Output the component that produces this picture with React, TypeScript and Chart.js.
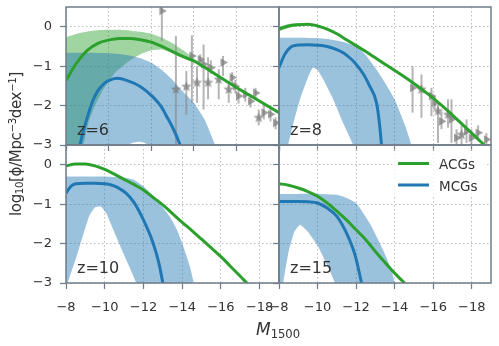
import React, { useEffect, useRef } from 'react';
import { Chart, registerables } from 'chart.js';

Chart.register(...registerables);

// ---------------- values ----------------
const xTickValues = [-8, -10, -12, -14, -16, -18];
const yTickValues = [-3, -2, -1, 0];
const redshiftLabels = ['z=6', 'z=8', 'z=10', 'z=15'];
const seriesNames = ['ACGs', 'MCGs'];

// z = 6
const z6AcgM = [-8, -8.5, -9, -9.5, -10, -10.5, -11, -11.5, -12, -12.5, -13, -13.5, -14, -14.5, -15, -15.5, -16, -16.5, -17, -17.5, -18, -18.5];
const z6AcgPhi = [-1.36, -0.92, -0.6, -0.42, -0.34, -0.3, -0.3, -0.33, -0.39, -0.5, -0.63, -0.76, -0.87, -1.03, -1.2, -1.37, -1.54, -1.7, -1.86, -2.02, -2.18, -2.34];
const z6AcgHiM = [-8, -8.5, -9, -9.5, -10, -10.5, -11, -11.5, -12, -12.5, -13, -13.5, -14, -14.5, -15];
const z6AcgHi = [-0.27, -0.18, -0.12, -0.09, -0.08, -0.08, -0.1, -0.13, -0.18, -0.28, -0.42, -0.6, -0.8, -1.0, -1.18];
const z6AcgLoM = [-8, -8.8, -9.05, -9.36, -9.75, -10.3, -11, -11.5, -12, -12.5, -13, -13.5, -14, -14.5, -15];
const z6AcgLo = [-3.6, -3.0, -2.44, -2.0, -1.59, -1.17, -0.86, -0.7, -0.6, -0.58, -0.66, -0.78, -0.9, -1.04, -1.2];
const z6McgM = [-8.5, -8.66, -9, -9.28, -9.5, -9.75, -10, -10.4, -10.85, -11.5, -12, -12.5, -12.7, -13, -13.36, -13.6];
const z6McgPhi = [-3.6, -3.0, -2.3, -1.85, -1.62, -1.46, -1.37, -1.31, -1.36, -1.52, -1.74, -2.05, -2.25, -2.55, -3.0, -3.4];
const z6McgHiM = [-8, -9, -10, -10.5, -11, -11.5, -12, -12.5, -13, -13.5, -14, -14.5, -15, -15.3];
const z6McgHi = [-0.66, -0.66, -0.67, -0.69, -0.73, -0.8, -0.91, -1.1, -1.35, -1.65, -1.93, -2.35, -3.0, -3.5];
const z6McgLoM = [-8, -10, -10.8, -11.1, -11.4, -11.7, -12, -13, -15.3];
const z6McgLo = [-4, -3.6, -3.05, -2.95, -2.92, -2.95, -3.05, -3.6, -4];
const z6ObsM = [-12.5, -13.16, -13.65, -13.91, -14.15, -14.3, -14.46, -14.67, -14.8, -15.17, -15.37, -15.64, -15.8, -15.95, -16.1, -16.42, -16.66, -16.9, -17.05, -17.29, -17.6, -17.84];
const z6ObsPhi = [0.4, -1.59, -1.52, -0.74, -1.42, -0.83, -0.95, -1.42, -1.04, -1.34, -0.91, -1.59, -1.29, -1.51, -1.76, -1.72, -1.89, -1.68, -2.31, -2.18, -2.22, -2.44];
const z6ObsHi = [0.9, -0.23, -1.12, -0.22, -1.0, -0.7, -0.45, -0.78, -0.85, -1.08, -0.74, -1.38, -1.15, -1.35, -1.6, -1.55, -1.75, -1.55, -2.1, -2.0, -2.05, -2.3];
const z6ObsLo = [-0.36, -3.1, -2.23, -1.93, -1.93, -0.95, -2.1, -1.84, -1.2, -1.84, -1.25, -1.93, -1.45, -1.7, -1.95, -1.9, -2.05, -1.85, -2.5, -2.35, -2.4, -2.6];
const z6ObsMarker = ['tri', 'star', 'star', 'tri', 'star', 'tri', 'tri', 'star', 'tri', 'star', 'tri', 'star', 'tri', 'tri', 'tri', 'tri', 'tri', 'tri', 'star', 'tri', 'tri', 'tri'];

// z = 8
const z8AcgM = [-8, -8.5, -9, -9.5, -10, -10.5, -11, -11.5, -12, -12.5, -13, -13.5, -14, -14.5, -15, -15.5, -16, -16.5, -17, -17.5, -18, -18.5, -19];
const z8AcgPhi = [-0.06, 0.02, 0.05, 0.06, 0.02, -0.06, -0.18, -0.33, -0.48, -0.63, -0.79, -0.95, -1.11, -1.27, -1.44, -1.62, -1.81, -2.02, -2.24, -2.47, -2.7, -2.93, -3.16];
const z8AcgHiM = [-8, -8.5, -9, -9.5, -10, -10.5];
const z8AcgHi = [0.0, 0.07, 0.09, 0.09, 0.05, -0.05];
const z8AcgLoM = [-8, -8.5, -9, -9.5, -10, -10.5];
const z8AcgLo = [-0.12, -0.03, 0.01, 0.03, -0.01, -0.07];
const z8McgM = [-8, -8.3, -8.6, -8.9, -9.5, -10, -10.5, -11, -11.33, -11.7, -12, -12.4, -12.7, -13.06, -13.2, -13.32, -13.4];
const z8McgPhi = [-1.04, -0.7, -0.52, -0.47, -0.46, -0.47, -0.5, -0.58, -0.66, -0.8, -0.95, -1.22, -1.5, -1.93, -2.4, -3.0, -3.4];
const z8McgHiM = [-8, -9, -10, -10.5, -11, -11.5, -12, -12.5, -13, -13.5, -14, -14.5, -14.87, -15.1];
const z8McgHi = [-0.28, -0.28, -0.29, -0.31, -0.35, -0.41, -0.5, -0.72, -1.05, -1.42, -1.84, -2.45, -3.0, -3.5];
const z8McgLoM = [-8, -8.3, -8.48, -8.8, -9.09, -9.5, -9.75, -10, -10.3, -10.81, -11.33, -11.85, -12.1, -15.1];
const z8McgLo = [-4, -3.6, -3.0, -2.35, -1.84, -1.29, -1.04, -1.1, -1.34, -1.84, -2.44, -3.0, -3.4, -4];
const z8ObsM = [-14.93, -15.39, -15.91, -16.08, -16.25, -16.43, -16.77, -16.95, -17.21, -17.47, -17.73, -17.98, -18.33, -18.76];
const z8ObsPhi = [-1.55, -1.59, -1.76, -1.93, -2.14, -2.4, -2.23, -2.35, -2.82, -2.74, -2.65, -2.82, -2.69, -2.86];
const z8ObsHi = [-1.0, -1.21, -1.55, -1.75, -1.93, -2.15, -1.84, -1.84, -2.6, -2.5, -2.35, -2.6, -2.5, -2.7];
const z8ObsLo = [-2.18, -2.31, -2.27, -2.1, -2.95, -2.6, -2.56, -2.95, -3.1, -3.0, -2.95, -3.1, -2.9, -3.05];
const z8ObsMarker = ['tri', 'star', 'tri', 'tri', 'star', 'tri', 'star', 'tri', 'tri', 'star', 'tri', 'tri', 'tri', 'tri'];

// z = 10
const z10AcgM = [-8, -8.5, -9, -9.5, -10, -10.5, -11, -11.5, -12, -12.5, -13, -13.5, -14, -14.5, -15, -15.5, -16, -16.5, -17, -17.5, -18];
const z10AcgPhi = [-0.03, 0.02, 0.02, -0.03, -0.12, -0.24, -0.37, -0.5, -0.64, -0.83, -1.02, -1.24, -1.46, -1.67, -1.89, -2.11, -2.33, -2.58, -2.83, -3.08, -3.3];
const z10McgM = [-8, -8.25, -8.5, -9, -9.5, -10, -10.25, -10.6, -11.1, -11.5, -12, -12.5, -12.8, -13.0, -13.1];
const z10McgPhi = [-0.72, -0.55, -0.48, -0.47, -0.47, -0.48, -0.5, -0.56, -0.72, -0.95, -1.4, -1.99, -2.5, -3.0, -3.3];
const z10McgHiM = [-8, -9, -10, -11, -11.5, -12, -12.5, -12.83, -13.35, -13.7, -14, -14.4, -14.6, -14.8];
const z10McgHi = [-0.3, -0.3, -0.3, -0.33, -0.38, -0.55, -0.78, -0.97, -1.31, -1.62, -1.99, -2.58, -3.0, -3.5];
const z10McgLoM = [-8, -8.1, -8.5, -8.86, -9.2, -9.5, -9.8, -10.1, -10.59, -11.1, -11.63, -11.9, -14.8];
const z10McgLo = [-3.6, -3.0, -2.4, -1.82, -1.3, -1.08, -1.06, -1.25, -1.82, -2.4, -3.0, -3.5, -3.5];

// z = 15
const z15AcgM = [-8, -8.5, -9, -9.5, -10, -10.5, -11, -11.5, -12, -12.5, -13, -13.5, -14, -14.51, -14.8];
const z15AcgPhi = [-0.48, -0.52, -0.59, -0.68, -0.8, -0.97, -1.18, -1.4, -1.65, -1.9, -2.2, -2.48, -2.75, -3.0, -3.15];
const z15McgM = [-8, -9, -9.5, -10, -10.5, -11, -11.5, -11.94, -12.28, -12.4];
const z15McgPhi = [-0.93, -0.93, -0.94, -0.97, -1.1, -1.31, -1.73, -2.28, -3.0, -3.3];
const z15McgHiM = [-8, -9, -10, -11, -11.3, -12, -12.7, -13.4, -13.83, -14.0, -14.2];
const z15McgHi = [-0.74, -0.74, -0.74, -0.76, -0.8, -0.97, -1.48, -2.16, -2.66, -3.0, -3.5];
const z15McgLoM = [-8, -8.22, -8.5, -8.8, -9.09, -9.5, -10, -10.5, -10.9, -11.1, -14.2];
const z15McgLo = [-3.8, -3.0, -2.2, -1.7, -1.52, -1.7, -2.05, -2.55, -3.0, -3.4, -3.5];

// ---------------- styles ----------------
const FONT = '"DejaVu Sans", "Liberation Sans", sans-serif';
const TEXT = '#333333';
const FRAME = '#6f7c89';
const GRID = '#bcbcbc';
const GREEN = '#2ca02c';
const BLUE = '#1f77b4';
const GREEN_FILL = 'rgba(44,160,44,0.45)';
const BLUE_FILL = 'rgba(31,119,180,0.45)';
const OBS = 'rgba(125,125,125,0.72)';
const OBS_BAR = 'rgba(135,135,135,0.62)';

const AREA_LEFT = [66, 279];
const AREA_W = [213, 212];
const AREA_TOP = [7, 145];
const AREA_H = [138, 138];

type Obs = { M: number[]; phi: number[]; hi: number[]; lo: number[]; marker: string[] };
type Panel = {
  key: string; label: string; col: number; row: number; xMin: number; legend: boolean;
  acg: number[][]; mcg: number[][]; acgBand?: number[][]; mcgBand?: number[][]; obs?: Obs;
};

const panels: Panel[] = [
  { key: 'z6', label: redshiftLabels[0], col: 0, row: 0, xMin: -18, legend: false,
    acg: [z6AcgM, z6AcgPhi], mcg: [z6McgM, z6McgPhi],
    acgBand: [z6AcgHiM, z6AcgHi, z6AcgLoM, z6AcgLo], mcgBand: [z6McgHiM, z6McgHi, z6McgLoM, z6McgLo],
    obs: { M: z6ObsM, phi: z6ObsPhi, hi: z6ObsHi, lo: z6ObsLo, marker: z6ObsMarker } },
  { key: 'z8', label: redshiftLabels[1], col: 1, row: 0, xMin: -19, legend: false,
    acg: [z8AcgM, z8AcgPhi], mcg: [z8McgM, z8McgPhi],
    acgBand: [z8AcgHiM, z8AcgHi, z8AcgLoM, z8AcgLo], mcgBand: [z8McgHiM, z8McgHi, z8McgLoM, z8McgLo],
    obs: { M: z8ObsM, phi: z8ObsPhi, hi: z8ObsHi, lo: z8ObsLo, marker: z8ObsMarker } },
  { key: 'z10', label: redshiftLabels[2], col: 0, row: 1, xMin: -19, legend: false,
    acg: [z10AcgM, z10AcgPhi], mcg: [z10McgM, z10McgPhi],
    mcgBand: [z10McgHiM, z10McgHi, z10McgLoM, z10McgLo] },
  { key: 'z15', label: redshiftLabels[3], col: 1, row: 1, xMin: -19, legend: true,
    acg: [z15AcgM, z15AcgPhi], mcg: [z15McgM, z15McgPhi],
    mcgBand: [z15McgHiM, z15McgHi, z15McgLoM, z15McgLo] },
];

const pts = (xs: number[], ys: number[]) => xs.map((x, i) => ({ x, y: ys[i] }));
const poly = (b: number[][]) => pts(b[0], b[1]).concat(pts(b[2], b[3]).reverse());
const fmt = (v: any) => (Number(v) < 0 ? '\u2212' + Math.abs(Number(v)) : String(v));

function makeStar(r: number, color: string) {
  const c = document.createElement('canvas');
  const s = Math.ceil(r * 2 + 2);
  c.width = s; c.height = s;
  const g = c.getContext('2d')!;
  g.fillStyle = color;
  g.beginPath();
  for (let i = 0; i < 10; i++) {
    const a = -Math.PI / 2 + (i * Math.PI) / 5;
    const rr = i % 2 === 0 ? r : r * 0.45;
    g.lineTo(s / 2 + rr * Math.cos(a), s / 2 + rr * Math.sin(a));
  }
  g.closePath();
  g.fill();
  return c;
}

const errorBarPlugin = {
  id: 'errbars',
  beforeDatasetDraw(chart: any, args: any) {
    const ds = chart.data.datasets[args.index];
    if (!ds.errHi) return;
    const { ctx, chartArea: a, scales } = chart;
    ctx.save();
    ctx.beginPath();
    ctx.rect(a.left, a.top, a.right - a.left, a.bottom - a.top);
    ctx.clip();
    ctx.strokeStyle = OBS_BAR;
    ctx.lineWidth = 2;
    ds.data.forEach((p: any, i: number) => {
      const px = scales.x.getPixelForValue(p.x);
      ctx.beginPath();
      ctx.moveTo(px, scales.y.getPixelForValue(ds.errHi[i]));
      ctx.lineTo(px, scales.y.getPixelForValue(ds.errLo[i]));
      ctx.stroke();
    });
    ctx.restore();
  },
};

const decorPlugin = {
  id: 'decor',
  afterDatasetsDraw(chart: any, _args: any, opts: any) {
    const { ctx, chartArea: a } = chart;
    ctx.save();
    ctx.fillStyle = TEXT;
    ctx.textAlign = 'left';
    ctx.textBaseline = 'alphabetic';
    ctx.font = `16px ${FONT}`;
    ctx.fillText(opts.label, a.left + 11, a.bottom - 10);
    if (opts.legend) {
      ctx.fillStyle = 'rgba(255,255,255,0.8)';
      ctx.fillRect(a.left + 113, a.top + 6, 94, 44);
      [GREEN, BLUE].forEach((col, i) => {
        const y = a.top + 18.5 + i * 21.5;
        ctx.strokeStyle = col;
        ctx.lineWidth = 3;
        ctx.beginPath();
        ctx.moveTo(a.left + 119, y);
        ctx.lineTo(a.left + 150, y);
        ctx.stroke();
        ctx.fillStyle = TEXT;
        ctx.font = `13.5px ${FONT}`;
        ctx.fillText(seriesNames[i], a.left + 160, y + 5.5);
      });
    }
    ctx.restore();
  },
  afterDraw(chart: any) {
    const { ctx, chartArea: a } = chart;
    ctx.save();
    ctx.strokeStyle = FRAME;
    ctx.lineWidth = 1.5;
    ctx.strokeRect(a.left, a.top, a.right - a.left, a.bottom - a.top);
    ctx.restore();
  },
};

function geometry(p: Panel) {
  const L = p.col === 0 ? 66 : 22;
  const R = 3;
  const T = p.row === 0 ? 7 : 4;
  const B = p.row === 0 ? 10 : 346 - (AREA_TOP[1] + AREA_H[1]);
  const cx = AREA_LEFT[p.col] - L;
  const cy = AREA_TOP[p.row] - T;
  const cw = L + AREA_W[p.col] + R;
  const ch = T + AREA_H[p.row] + B;
  return { L, R, T, B, cx, cy, cw, ch };
}

function buildConfig(p: Panel) {
  const g = geometry(p);
  const star = makeStar(5.5, OBS);
  const datasets: any[] = [];
  if (p.acgBand) datasets.push({ type: 'line', data: poly(p.acgBand), borderWidth: 0, borderColor: 'rgba(0,0,0,0)', pointRadius: 0, backgroundColor: GREEN_FILL, fill: 'shape', tension: 0.15, order: 50, clip: 0 });
  if (p.mcgBand) datasets.push({ type: 'line', data: poly(p.mcgBand), borderWidth: 0, borderColor: 'rgba(0,0,0,0)', pointRadius: 0, backgroundColor: BLUE_FILL, fill: 'shape', tension: 0.15, order: 40, clip: 0 });
  if (p.obs) {
    const o = p.obs;
    datasets.push({
      type: 'line', showLine: false, data: pts(o.M, o.phi), errHi: o.hi, errLo: o.lo,
      pointStyle: o.marker.map((m) => (m === 'star' ? star : 'triangle')),
      rotation: o.marker.map((m) => (m === 'star' ? 0 : 90)),
      pointRadius: 5, pointBackgroundColor: OBS, pointBorderWidth: 0, pointBorderColor: 'rgba(0,0,0,0)',
      order: 30, clip: 0, fill: false,
    });
  }
  datasets.push({ type: 'line', data: pts(p.mcg[0], p.mcg[1]), borderColor: BLUE, borderWidth: 3, pointRadius: 0, fill: false, cubicInterpolationMode: 'monotone', order: 20, clip: 0, borderCapStyle: 'butt' });
  datasets.push({ type: 'line', data: pts(p.acg[0], p.acg[1]), borderColor: GREEN, borderWidth: 3, pointRadius: 0, fill: false, cubicInterpolationMode: 'monotone', order: 10, clip: 0, borderCapStyle: 'butt' });

  const tickFont = { family: FONT, size: 13 };
  return {
    type: 'line',
    data: { datasets },
    options: {
      animation: false,
      responsive: false,
      events: [],
      layout: { padding: { left: 0, top: g.T, right: g.R, bottom: 0 }, autoPadding: false },
      plugins: { legend: { display: false }, tooltip: { enabled: false }, decor: { label: p.label, legend: p.legend } },
      scales: {
        x: {
          type: 'linear', reverse: true, min: p.xMin, max: -8,
          afterBuildTicks: (s: any) => { s.ticks = xTickValues.filter((v) => v >= s.min && v <= s.max).map((v) => ({ value: v })); },
          afterFit: (s: any) => { s.height = g.B; s.paddingLeft = 0; s.paddingRight = 0; },
          ticks: { display: p.row === 1, font: tickFont, color: TEXT, padding: 11, maxRotation: 0, autoSkip: false, callback: fmt },
          grid: { color: GRID, lineWidth: 1, tickLength: 6, tickColor: FRAME, tickWidth: 1.25, drawTicks: true },
          border: { display: false, dash: [1.5, 2.5] },
        },
        y: {
          type: 'linear', min: -3, max: 0.5,
          afterBuildTicks: (s: any) => { s.ticks = yTickValues.map((v) => ({ value: v })); },
          afterFit: (s: any) => { s.width = g.L; s.paddingTop = 0; s.paddingBottom = 0; },
          ticks: { display: p.col === 0, font: tickFont, color: TEXT, padding: 8, autoSkip: false, callback: fmt },
          grid: { color: GRID, lineWidth: 1, tickLength: 6, tickColor: FRAME, tickWidth: 1.25, drawTicks: true },
          border: { display: false, dash: [1.5, 2.5] },
        },
      },
    },
    plugins: [errorBarPlugin, decorPlugin],
  };
}

function PanelChart({ p }: { p: Panel }) {
  const ref = useRef<HTMLCanvasElement>(null);
  const g = geometry(p);
  useEffect(() => {
    const chart = new Chart(ref.current as HTMLCanvasElement, buildConfig(p) as any);
    return () => chart.destroy();
  }, [p]);
  return (
    <canvas
      ref={ref}
      width={g.cw}
      height={g.ch}
      style={{ position: 'absolute', left: g.cx, top: g.cy, width: g.cw, height: g.ch }}
    />
  );
}

export default function App() {
  const sub = { fontSize: '0.68em', verticalAlign: '-0.22em', lineHeight: 0 } as const;
  const sup = { fontSize: '0.68em', verticalAlign: '0.5em', lineHeight: 0 } as const;
  return (
    <div style={{ position: 'absolute', left: 0, top: 0, width: 499, height: 346, background: '#ffffff', overflow: 'hidden', fontFamily: FONT, color: TEXT }}>
      {panels.map((p) => (
        <PanelChart key={p.key} p={p} />
      ))}
      <div
        style={{
          position: 'absolute', left: 16 - 120, top: 144 - 10, width: 240, height: 20,
          lineHeight: '20px', fontSize: 15, letterSpacing: '-0.35px', textAlign: 'center', whiteSpace: 'nowrap',
          transform: 'rotate(-90deg)', transformOrigin: '50% 50%',
        }}
      >
        log<span style={sub}>10</span>[ϕ/Mpc<span style={sup}>−3</span>dex<span style={sup}>−1</span>]
      </div>
      <div
        style={{
          position: 'absolute', left: 278 - 60, top: 319, width: 120, height: 20,
          lineHeight: '20px', fontSize: 17, textAlign: 'center', whiteSpace: 'nowrap',
        }}
      >
        <i>M</i><span style={sub}>1500</span>
      </div>
    </div>
  );
}
